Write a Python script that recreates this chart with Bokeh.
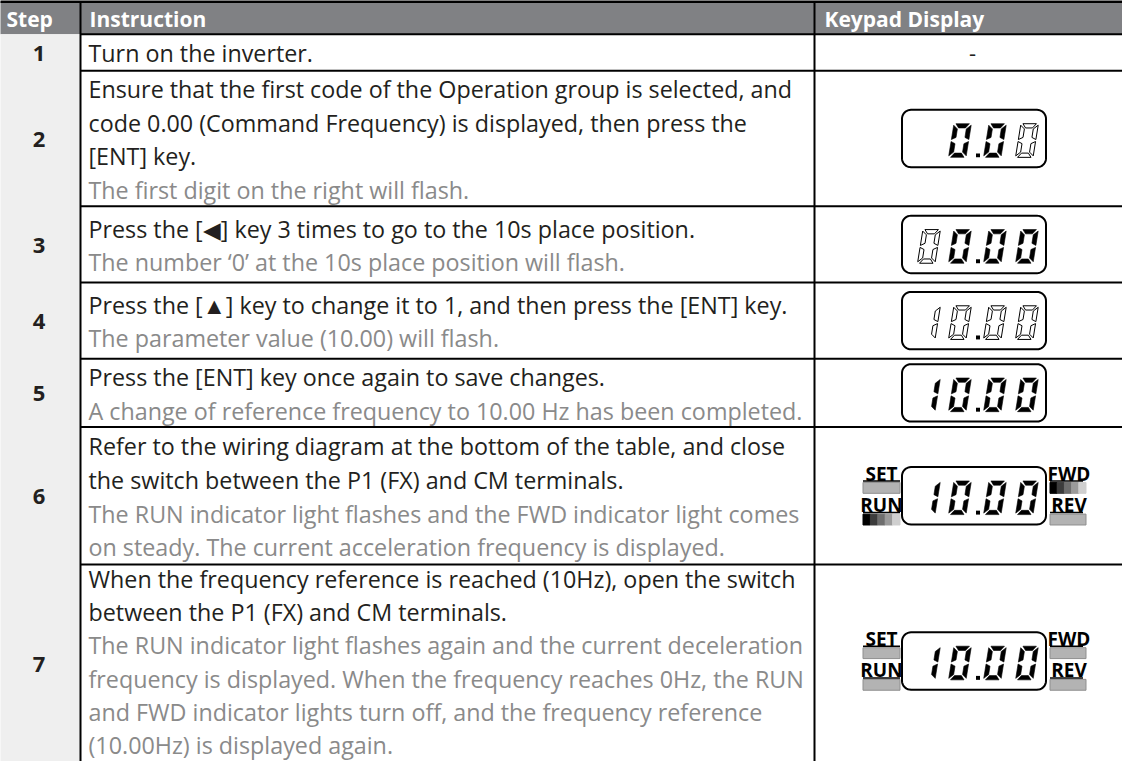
import numpy as np
from bokeh.plotting import figure
from bokeh.models import Range1d, ColumnDataSource
from bokeh.core.properties import value
from bokeh.embed import file_html
from bokeh.resources import INLINE

# ---------------- data ----------------
header_labels = ["Step", "Instruction", "Keypad Display"]
step_numbers = ["1", "2", "3", "4", "5", "6", "7"]
instructions = [
    ["Turn on the inverter."],
    ["Ensure that the first code of the Operation group is selected, and",
     "code 0.00 (Command Frequency) is displayed, then press the",
     "[ENT] key."],
    ["Press the [\u25c0] key 3 times to go to the 10s place position."],
    ["Press the [\u25b2] key to change it to 1, and then press the [ENT] key."],
    ["Press the [ENT] key once again to save changes."],
    ["Refer to the wiring diagram at the bottom of the table, and close",
     "the switch between the P1 (FX) and CM terminals."],
    ["When the frequency reference is reached (10Hz), open the switch",
     "between the P1 (FX) and CM terminals."],
]
results = [
    [],
    ["The first digit on the right will flash."],
    ["The number \u20180\u2019 at the 10s place position will flash."],
    ["The parameter value (10.00) will flash."],
    ["A change of reference frequency to 10.00 Hz has been completed."],
    ["The RUN indicator light flashes and the FWD indicator light comes",
     "on steady. The current acceleration frequency is displayed."],
    ["The RUN indicator light flashes again and the current deceleration",
     "frequency is displayed. When the frequency reaches 0Hz, the RUN",
     "and FWD indicator lights turn off, and the frequency reference",
     "(10.00Hz) is displayed again."],
]
keypad_text = ["-", "0.00", "00.00", "10.00", "10.00", "10.00", "10.00"]
keypad_flash = [[], [0, 0, 1], [1, 0, 0, 0], [1, 1, 1, 1], [0, 0, 0, 0], [0, 0, 0, 0], [0, 0, 0, 0]]
indicator_names = ["SET", "RUN", "FWD", "REV"]
indicator_state = [None, None, None, None, None,
                   ["off", "blink", "blink", "off"],
                   ["off", "off", "off", "off"]]

# ---------------- layout (reference-pixel coordinates) ----------------
X0, X_STEP, X_KEY, X1 = 5, 88, 822, 1138
Y_TOP, Y_HEAD = 9, 42
Y_END = 777
row_bottoms = [79, 216, 293, 370, 439, 578, Y_END]
row_shift = [0, 0, 0, 0, 0, 0, -2]
row_spacing = [34, 34, 34, 34, 34, 34, 33.6]
FONT = value("Open Sans")
BLACK = "#231f20"
GRAY = "#8a8a8a"

p = figure(width=1122, height=761, x_range=Range1d(8, 1130), y_range=Range1d(777, 8),
           output_backend="svg", toolbar_location=None, min_border=0,
           x_axis_type=None, y_axis_type=None,
           background_fill_color="white", border_fill_color="white")
p.outline_line_color = None

# backgrounds
p.quad(left=[X0], right=[X1], top=[Y_TOP], bottom=[Y_HEAD], fill_color="#808184", line_color=None)
p.quad(left=[X0], right=[X_STEP], top=[Y_HEAD], bottom=[Y_END + 10], fill_color="#efefef", line_color=None)

# grid lines
p.segment(x0=[X0], y0=[Y_TOP], x1=[X1], y1=[Y_TOP], line_color="black", line_width=3)
hl = [Y_HEAD] + row_bottoms[:-1]
p.segment(x0=[X_STEP] * len(hl), y0=hl, x1=[X1] * len(hl), y1=hl, line_color="black", line_width=2)
p.segment(x0=[X_STEP, X_KEY], y0=[Y_TOP, Y_TOP], x1=[X_STEP, X_KEY], y1=[Y_END + 10, Y_END + 10],
          line_color="black", line_width=2)

# header text
head_y = (Y_TOP + Y_HEAD) / 2 + 1
p.text(x=[X0 + 9, X_STEP + 9, X_KEY + 10], y=[head_y] * 3, text=header_labels,
       text_font=FONT, text_font_style="bold", text_font_size="21px",
       text_color="white", text_baseline="middle", text_align="left")

# row text
tops = [Y_HEAD] + row_bottoms[:-1]
tx, ty, tt, tc = [], [], [], []
sx, sy = [], []
for i in range(len(step_numbers)):
    top, bot = tops[i], row_bottoms[i]
    cy = (top + bot) / 2
    sx.append((X0 + X_STEP) / 2)
    sy.append(cy + 1)
    lines = [(t, BLACK) for t in instructions[i]] + [(t, GRAY) for t in results[i]]
    n = len(lines)
    for k, (t, c) in enumerate(lines):
        tx.append(X_STEP + 8)
        ty.append(cy + row_shift[i] + (k - (n - 1) / 2) * row_spacing[i] + 1)
        tt.append(t)
        tc.append(c)

src = ColumnDataSource(dict(x=tx, y=ty, text=tt, color=tc))
p.text(x="x", y="y", text="text", text_color="color", source=src,
       text_font=FONT, text_font_size="23.3px", text_baseline="middle", text_align="left")
p.text(x=sx, y=sy, text=step_numbers, text_font=FONT, text_font_style="bold",
       text_font_size="22px", text_color=BLACK, text_baseline="middle", text_align="center")

# ---------------- keypad drawings ----------------
SEGMAP = {"0": "abcdef", "1": "bc", "2": "abged", "3": "abgcd", "4": "fgbc",
          "5": "afgcd", "6": "afgedc", "7": "abc", "8": "abcdefg", "9": "abcdfg"}


def seg_polys(W=17.5, H=34.0, T=4.3, g=1.0):
    h2 = H / 2
    return {
        "a": [(g + 1, H), (W - g - 1, H), (W - g - T, H - T), (g + T, H - T)],
        "d": [(g + 1, 0), (W - g - 1, 0), (W - g - T, T), (g + T, T)],
        "g": [(g + T * 0.5, h2), (g + T, h2 + T / 2), (W - g - T, h2 + T / 2),
              (W - g - T * 0.5, h2), (W - g - T, h2 - T / 2), (g + T, h2 - T / 2)],
        "f": [(0, h2 + g), (0, H - g - 0.5), (T, H - g - T), (T, h2 + g + T / 2)],
        "b": [(W, h2 + g), (W, H - g - 0.5), (W - T, H - g - T), (W - T, h2 + g + T / 2)],
        "e": [(0, g + 0.5), (0, h2 - g), (T, h2 - g - T / 2), (T, g + T)],
        "c": [(W, g + 0.5), (W, h2 - g), (W - T, h2 - g - T / 2), (W - T, g + T)],
    }


SEGS = seg_polys()
SLANT = 0.16


def rounded_rect(l, r, t, b, rad=9, n=10):
    xs, ys = [], []
    for cx, cy, a0, a1 in [(r - rad, t + rad, -90, 0), (r - rad, b - rad, 0, 90),
                           (l + rad, b - rad, 90, 180), (l + rad, t + rad, 180, 270)]:
        ang = np.radians(np.linspace(a0, a1, n))
        xs += list(cx + rad * np.cos(ang))
        ys += list(cy + rad * np.sin(ang))
    return xs, ys


slot_offsets = [15.5, 46.5, 81.5, 113.5]
dot_offset = 76
BOX_W, BOX_H = 144, 58
BOX_CX = 981.5

solid_xs, solid_ys, hol_xs, hol_ys = [], [], [], []
box_xs, box_ys = [], []
dash_x, dash_y = [], []
bar_l, bar_r, bar_t, bar_b, bar_c, bar_line = [], [], [], [], [], []
ul_x0, ul_x1, ul_y = [], [], []
lab_x, lab_y, lab_t = [], [], []
dots_x, dots_y = [], []

for i, disp in enumerate(keypad_text):
    top, bot = tops[i], row_bottoms[i]
    cy = (top + bot) / 2 + row_shift[i]
    if disp == "-":
        dash_x.append(980)
        dash_y.append(cy + 1)
        continue
    left = BOX_CX - BOX_W / 2
    right = left + BOX_W
    bx, by = rounded_rect(left, right, cy - BOX_H / 2, cy + BOX_H / 2)
    box_xs.append(bx)
    box_ys.append(by)
    digits = disp.replace(".", "")
    start = 4 - len(digits)
    base = cy + 19
    for k, ch in enumerate(digits):
        sl = left + slot_offsets[start + k]
        flash = keypad_flash[i][k]
        for s in SEGMAP[ch]:
            px = [sl + x + y * SLANT for x, y in SEGS[s]]
            py = [base - y for x, y in SEGS[s]]
            if flash:
                hol_xs.append(px); hol_ys.append(py)
            else:
                solid_xs.append(px); solid_ys.append(py)
    dots_x.append(left + dot_offset)
    dots_y.append(base - 2)
    st = indicator_state[i]
    if st is not None:
        for j, name in enumerate(indicator_names):
            on_left = j < 2
            upper = j % 2 == 0
            bl = left - 39 if on_left else right + 4
            br = left - 2 if on_left else right + 40
            btop = cy - 13.5 if upper else cy + 18.5
            bbot = btop + 11
            lab_x.append((bl + br) / 2 + (0 if on_left else 1))
            lab_y.append(btop - 9)
            lab_t.append(name)
            ul_x0.append(bl); ul_x1.append(br - (0 if on_left else 3)); ul_y.append(btop - 1.5)
            if st[j] == "blink":
                cols = ["#000000", "#3c3c3c", "#6e6e6e", "#9b9b9b", "#cfcfcf"]
                w = (br - bl) / len(cols)
                for m, c in enumerate(cols):
                    bar_l.append(bl + m * w); bar_r.append(bl + (m + 1) * w)
                    bar_t.append(btop); bar_b.append(bbot); bar_c.append(c); bar_line.append(c)
            else:
                bar_l.append(bl); bar_r.append(br); bar_t.append(btop); bar_b.append(bbot)
                bar_c.append("#b3b3b3"); bar_line.append("#8f8f8f")

p.text(x=dash_x, y=dash_y, text=["-"] * len(dash_x), text_font=FONT, text_font_size="22px",
       text_color=BLACK, text_baseline="middle", text_align="center")
p.patches(xs=box_xs, ys=box_ys, fill_color="white", line_color="black", line_width=2)
p.patches(xs=solid_xs, ys=solid_ys, fill_color="black", line_color="black", line_width=0.6)
p.patches(xs=hol_xs, ys=hol_ys, fill_color="white", line_color="black", line_width=1)
p.rect(x=dots_x, y=dots_y, width=4, height=4, fill_color="black", line_color=None)
p.quad(left=bar_l, right=bar_r, top=bar_t, bottom=bar_b, fill_color=bar_c, line_color=bar_line, line_width=1)
p.segment(x0=ul_x0, y0=ul_y, x1=ul_x1, y1=ul_y, line_color="black", line_width=1.5)
p.text(x=lab_x, y=lab_y, text=lab_t, text_font=FONT, text_font_style="bold", text_font_size="19px",
       text_color="black", text_baseline="middle", text_align="center")

open("out.html", "w").write(file_html(p, INLINE))
